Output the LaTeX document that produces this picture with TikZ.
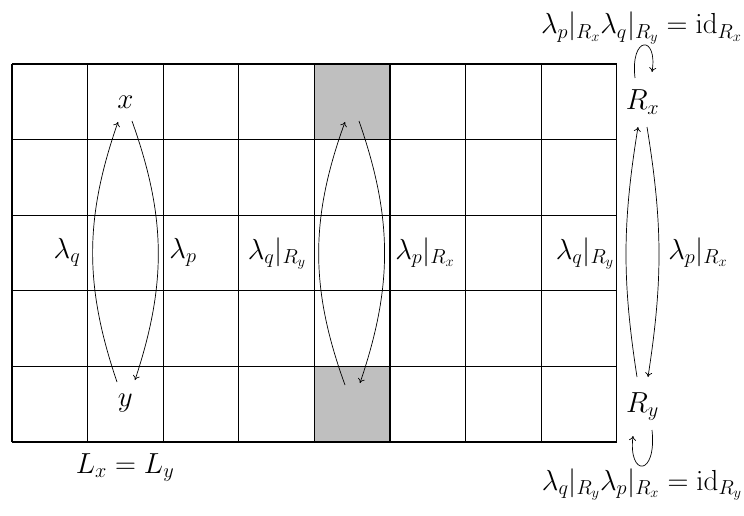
\RequirePackage{fix-cm}
\documentclass[tikz,border=0pt]{standalone}
\usepackage{amsmath}
\usetikzlibrary{arrows.meta}
\begin{document}
\begin{tikzpicture}[x=1pt,y=1pt,
  lbl/.style={font=\fontsize{29}{34}\selectfont, inner sep=0pt, anchor=base},
  gridline/.style={line width=1.1pt},
  cellfill/.style={fill=black!25},
  arr/.style={line width=0.7pt, -{To[length=4.5pt,width=7pt]}}]
\useasboundingbox (0,0) rectangle (744,515);
% gray cells
\fill[cellfill] (314.4,451) rectangle (390,375.4);
\fill[cellfill] (314.4,148.6) rectangle (390,73);
% grid
\draw[gridline, shift={(12,73)}] (0,0) grid[step=75.6] (604.8,378);
% nodes
\node[lbl] (x) at (125.4,406) {$x$};
\node[lbl] (y) at (125.4,109) {$y$};
\node[lbl] (Rx) at (642.5,405) {$R_x$};
\node[lbl] (Ry) at (642.5,103) {$R_y$};
\node[lbl] (lq1) at (67,257) {$\lambda_q$};
\node[lbl] (lp1) at (183,257) {$\lambda_p$};
\node[lbl] (lq2) at (277,256) {$\lambda_q|_{R_y}$};
\node[lbl] (lp2) at (425,256) {$\lambda_p|_{R_x}$};
\node[lbl] (lq3) at (585,256) {$\lambda_q|_{R_y}$};
\node[lbl] (lp3) at (698,256) {$\lambda_p|_{R_x}$};
\node[lbl] (eqtop) at (641.5,481) {$\lambda_p|_{R_x}\lambda_q|_{R_y}=\mathrm{id}_{R_x}$};
\node[lbl] (eqbot) at (642,25) {$\lambda_q|_{R_y}\lambda_p|_{R_x}=\mathrm{id}_{R_y}$};
\node[lbl] (L) at (125,42) {$L_x=L_y$};
% arrow end points
\coordinate (a1) at (117,133);
\coordinate (a2) at (118,393);
\coordinate (b1) at (132,394);
\coordinate (b2) at (135,135);
\coordinate (c1) at (345,130);
\coordinate (c2) at (345,393);
\coordinate (d1) at (359,394);
\coordinate (d2) at (360,132);
\coordinate (e1) at (637,138);
\coordinate (e2) at (638,388);
\coordinate (f1) at (647,388);
\coordinate (f2) at (648,138);
\coordinate (t1) at (635,437);
\coordinate (t2) at (652,443);
\coordinate (u1) at (652,85);
\coordinate (u2) at (633,79);
% arrows
\draw[arr] (a1) to[bend left=19] (a2);
\draw[arr] (b1) to[bend left=19] (b2);
\draw[arr] (c1) to[bend left=20] (c2);
\draw[arr] (d1) to[bend left=19] (d2);
\draw[arr] (e1) to[bend left=9] (e2);
\draw[arr] (f1) to[bend left=9] (f2);
\draw[arr] (t1) .. controls (630,480) and (658,480) .. (t2);
\draw[arr] (u1) .. controls (657,38) and (628,38) .. (u2);
\end{tikzpicture}
\end{document}
